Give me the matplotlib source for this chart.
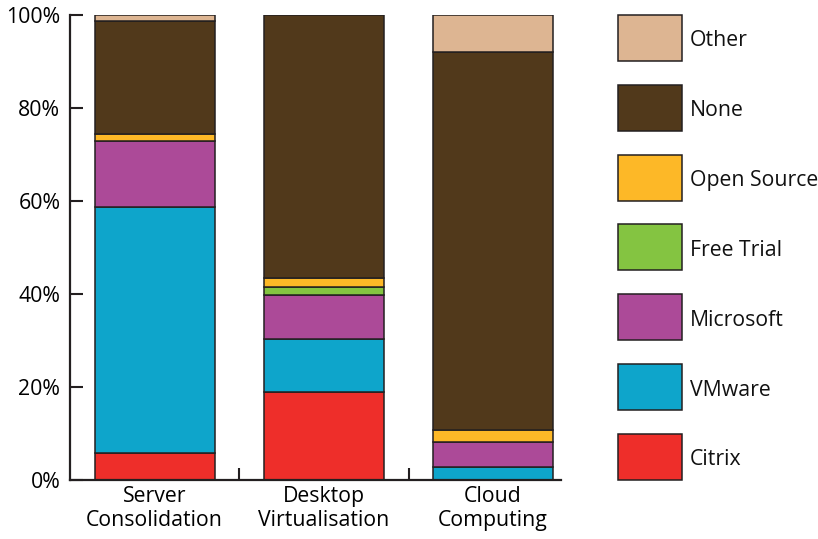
import matplotlib.pyplot as plt
import numpy as np
from matplotlib.patches import Rectangle

plt.rcParams['font.family'] = ['Open Sans', 'DejaVu Sans']

# Datos (porcentajes)
categories = ["Server\nConsolidation", "Desktop\nVirtualisation", "Cloud\nComputing"]
series = ["Citrix", "VMware", "Microsoft", "Free Trial", "Open Source", "None", "Other"]
citrix      = [5.8, 18.9, 0.0]
vmware      = [52.9, 11.4, 2.7]
microsoft   = [14.2, 9.5, 5.5]
free_trial  = [0.0, 1.8, 0.0]
open_source = [1.5, 1.8, 2.6]
none        = [24.3, 56.6, 81.2]
other       = [1.3, 0.0, 8.0]
colors = ["#EE2E2A", "#0EA5CB", "#AC4A98", "#84C441", "#FDB827", "#51391B", "#DDB592"]

values = [citrix, vmware, microsoft, free_trial, open_source, none, other]
edge = "#231f20"
fs = 15.3

fig = plt.figure(figsize=(8.18, 5.39), dpi=100)
ax = fig.add_axes([0.0856, 0.1095, 0.600, 0.8625])

x = np.arange(len(categories))
bottom = np.zeros(len(categories))
for name, vals, c in zip(series, values, colors):
    vals = np.array(vals)
    mask = vals > 0
    ax.bar(x[mask], vals[mask], width=0.71, bottom=bottom[mask], color=c,
           edgecolor=edge, linewidth=1.1)
    bottom += vals

ax.set_xlim(-0.5, 2.4)
ax.set_ylim(0, 100)
ax.set_yticks([0, 20, 40, 60, 80, 100])
ax.set_yticklabels([f"{v}%" for v in [0, 20, 40, 60, 80, 100]], fontsize=fs)
ax.set_xticks([0.5, 1.5])
ax.set_xticklabels([])
ax.set_xticks(x, minor=True)
ax.set_xticklabels(categories, minor=True, fontsize=fs, linespacing=1.2)
ax.tick_params(axis='x', which='minor', length=0, pad=4)
ax.tick_params(axis='both', which='major', direction='in', length=9, width=1.5,
               color=edge)
ax.tick_params(axis='y', pad=7)
for s in ['top', 'right']:
    ax.spines[s].set_visible(False)
for s in ['left', 'bottom']:
    ax.spines[s].set_linewidth(1.6)
    ax.spines[s].set_color(edge)

# Leyenda manual
lax = fig.add_axes([0, 0, 1, 1])
lax.set_xlim(0, 818)
lax.set_ylim(539, 0)
lax.axis('off')
for i, (name, c) in enumerate(zip(series[::-1], colors[::-1])):
    y0 = 15 + i * 69.8
    lax.add_patch(Rectangle((618, y0), 64, 46, facecolor=c, edgecolor=edge, linewidth=1.1))
    lax.text(690, y0 + 26, name, fontsize=fs, va='center', ha='left', color="#111111")

fig.savefig("out.png", dpi=100)
